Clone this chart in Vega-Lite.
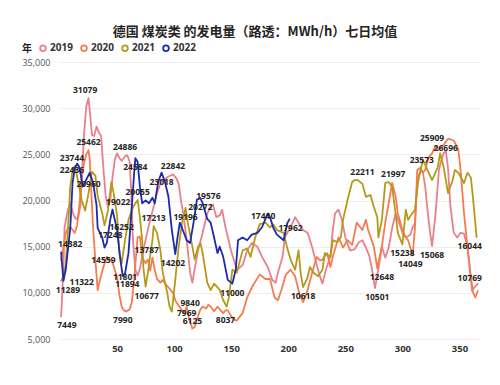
{
  "$schema": "https://vega.github.io/schema/vega-lite/v6.json",
  "width": 420,
  "height": 277,
  "autosize": "none",
  "padding": {"left": 60, "top": 62, "right": 20, "bottom": 46},
  "background": "white",
  "title": {"text": "德国 煤炭类 的发电量（路透：MWh/h）七日均值", "font": "Noto Sans CJK SC", "fontSize": 13, "fontWeight": "bold", "color": "#252423", "anchor": "middle", "dx": -15, "offset": 4},
  "config": {"view": {"stroke": null}},
  "datasets": {
    "lines": [
      {"year":"2019","day":1,"value":7449},{"year":"2019","day":3,"value":12800},{"year":"2019","day":4,"value":17100},{"year":"2019","day":7,"value":19000},{"year":"2019","day":9,"value":19700},{"year":"2019","day":12,"value":18400},{"year":"2019","day":14,"value":18000},{"year":"2019","day":16,"value":18200},{"year":"2019","day":18,"value":19500},{"year":"2019","day":19,"value":22200},{"year":"2019","day":21,"value":27000},{"year":"2019","day":23,"value":30200},{"year":"2019","day":25,"value":31079},{"year":"2019","day":27,"value":28500},{"year":"2019","day":28,"value":27100},{"year":"2019","day":30,"value":27000},{"year":"2019","day":32,"value":28000},{"year":"2019","day":34,"value":27400},{"year":"2019","day":36,"value":27000},{"year":"2019","day":38,"value":23500},{"year":"2019","day":40,"value":20500},{"year":"2019","day":42,"value":19300},{"year":"2019","day":44,"value":20000},{"year":"2019","day":46,"value":22500},{"year":"2019","day":48,"value":24400},{"year":"2019","day":50,"value":25100},{"year":"2019","day":52,"value":24600},{"year":"2019","day":54,"value":24300},{"year":"2019","day":57,"value":24800},{"year":"2019","day":59,"value":24900},{"year":"2019","day":61,"value":24200},{"year":"2019","day":62,"value":22000},{"year":"2019","day":64,"value":15500},{"year":"2019","day":66,"value":12500},{"year":"2019","day":68,"value":11894},{"year":"2019","day":70,"value":12600},{"year":"2019","day":73,"value":14600},{"year":"2019","day":76,"value":16300},{"year":"2019","day":79,"value":17900},{"year":"2019","day":82,"value":19300},{"year":"2019","day":85,"value":20800},{"year":"2019","day":89,"value":22200},{"year":"2019","day":92,"value":22300},{"year":"2019","day":95,"value":22600},{"year":"2019","day":99,"value":22842},{"year":"2019","day":102,"value":22400},{"year":"2019","day":104,"value":21800},{"year":"2019","day":106,"value":20000},{"year":"2019","day":108,"value":18600},{"year":"2019","day":111,"value":15700},{"year":"2019","day":114,"value":12200},{"year":"2019","day":116,"value":11100},{"year":"2019","day":118,"value":12600},{"year":"2019","day":121,"value":14600},{"year":"2019","day":125,"value":16500},{"year":"2019","day":129,"value":18600},{"year":"2019","day":132,"value":19300},{"year":"2019","day":134,"value":19576},{"year":"2019","day":137,"value":18200},{"year":"2019","day":140,"value":18400},{"year":"2019","day":142,"value":19000},{"year":"2019","day":145,"value":17100},{"year":"2019","day":150,"value":14500},{"year":"2019","day":155,"value":12500},{"year":"2019","day":160,"value":13000},{"year":"2019","day":164,"value":14600},{"year":"2019","day":168,"value":15400},{"year":"2019","day":173,"value":15000},{"year":"2019","day":177,"value":13900},{"year":"2019","day":182,"value":12800},{"year":"2019","day":186,"value":11400},{"year":"2019","day":189,"value":11100},{"year":"2019","day":191,"value":12200},{"year":"2019","day":195,"value":13900},{"year":"2019","day":197,"value":16000},{"year":"2019","day":202,"value":17100},{"year":"2019","day":206,"value":18200},{"year":"2019","day":209,"value":17600},{"year":"2019","day":213,"value":16800},{"year":"2019","day":217,"value":16500},{"year":"2019","day":221,"value":14900},{"year":"2019","day":225,"value":13000},{"year":"2019","day":228,"value":11700},{"year":"2019","day":230,"value":11000},{"year":"2019","day":233,"value":12500},{"year":"2019","day":237,"value":14000},{"year":"2019","day":239,"value":16800},{"year":"2019","day":241,"value":18600},{"year":"2019","day":244,"value":19000},{"year":"2019","day":247,"value":17900},{"year":"2019","day":250,"value":16000},{"year":"2019","day":254,"value":14600},{"year":"2019","day":258,"value":14700},{"year":"2019","day":262,"value":15500},{"year":"2019","day":265,"value":15700},{"year":"2019","day":268,"value":14900},{"year":"2019","day":271,"value":14000},{"year":"2019","day":273,"value":12800},{"year":"2019","day":276,"value":10501},{"year":"2019","day":279,"value":12600},{"year":"2019","day":282,"value":15000},{"year":"2019","day":285,"value":13800},{"year":"2019","day":288,"value":14900},{"year":"2019","day":291,"value":17000},{"year":"2019","day":294,"value":18600},{"year":"2019","day":297,"value":17600},{"year":"2019","day":300,"value":16500},{"year":"2019","day":303,"value":16000},{"year":"2019","day":307,"value":16300},{"year":"2019","day":309,"value":17100},{"year":"2019","day":311,"value":17500},{"year":"2019","day":313,"value":22200},{"year":"2019","day":316,"value":23300},{"year":"2019","day":318,"value":23000},{"year":"2019","day":320,"value":21500},{"year":"2019","day":322,"value":19000},{"year":"2019","day":324,"value":16800},{"year":"2019","day":326,"value":15068},{"year":"2019","day":329,"value":18500},{"year":"2019","day":332,"value":23300},{"year":"2019","day":334,"value":24300},{"year":"2019","day":336,"value":25100},{"year":"2019","day":338,"value":25400},{"year":"2019","day":340,"value":23500},{"year":"2019","day":342,"value":19500},{"year":"2019","day":345,"value":16500},{"year":"2019","day":348,"value":16000},{"year":"2019","day":351,"value":16500},{"year":"2019","day":354,"value":16400},{"year":"2019","day":357,"value":15000},{"year":"2019","day":359,"value":12600},{"year":"2019","day":361,"value":10200},{"year":"2019","day":363,"value":10600},{"year":"2019","day":366,"value":11000},

      {"year":"2020","day":1,"value":13500},{"year":"2020","day":3,"value":15000},{"year":"2020","day":5,"value":16500},{"year":"2020","day":7,"value":17000},{"year":"2020","day":9,"value":17100},{"year":"2020","day":11,"value":16800},{"year":"2020","day":13,"value":16500},{"year":"2020","day":15,"value":17300},{"year":"2020","day":17,"value":19500},{"year":"2020","day":19,"value":22500},{"year":"2020","day":21,"value":24000},{"year":"2020","day":23,"value":25000},{"year":"2020","day":25,"value":25462},{"year":"2020","day":26,"value":24500},{"year":"2020","day":27,"value":22000},{"year":"2020","day":28,"value":19500},{"year":"2020","day":29,"value":17000},{"year":"2020","day":31,"value":13500},{"year":"2020","day":33,"value":10300},{"year":"2020","day":35,"value":11400},{"year":"2020","day":38,"value":12800},{"year":"2020","day":41,"value":13900},{"year":"2020","day":44,"value":13600},{"year":"2020","day":46,"value":13300},{"year":"2020","day":48,"value":12500},{"year":"2020","day":50,"value":11700},{"year":"2020","day":52,"value":9800},{"year":"2020","day":54,"value":8500},{"year":"2020","day":56,"value":8100},{"year":"2020","day":58,"value":7990},{"year":"2020","day":61,"value":8200},{"year":"2020","day":63,"value":9000},{"year":"2020","day":65,"value":11500},{"year":"2020","day":67,"value":14500},{"year":"2020","day":68,"value":16000},{"year":"2020","day":70,"value":16100},{"year":"2020","day":72,"value":13800},{"year":"2020","day":75,"value":13200},{"year":"2020","day":77,"value":13600},{"year":"2020","day":79,"value":12400},{"year":"2020","day":81,"value":13800},{"year":"2020","day":83,"value":12500},{"year":"2020","day":85,"value":11500},{"year":"2020","day":88,"value":11100},{"year":"2020","day":90,"value":11400},{"year":"2020","day":92,"value":11000},{"year":"2020","day":95,"value":10600},{"year":"2020","day":99,"value":10000},{"year":"2020","day":101,"value":9200},{"year":"2020","day":104,"value":8600},{"year":"2020","day":107,"value":8100},{"year":"2020","day":109,"value":7800},{"year":"2020","day":111,"value":8500},{"year":"2020","day":113,"value":7200},{"year":"2020","day":116,"value":6125},{"year":"2020","day":118,"value":6300},{"year":"2020","day":121,"value":7500},{"year":"2020","day":123,"value":8200},{"year":"2020","day":125,"value":8500},{"year":"2020","day":128,"value":8300},{"year":"2020","day":130,"value":8700},{"year":"2020","day":132,"value":8500},{"year":"2020","day":135,"value":8000},{"year":"2020","day":138,"value":8500},{"year":"2020","day":140,"value":8200},{"year":"2020","day":143,"value":7800},{"year":"2020","day":145,"value":8100},{"year":"2020","day":147,"value":8100},{"year":"2020","day":150,"value":7500},{"year":"2020","day":152,"value":7100},{"year":"2020","day":155,"value":7000},{"year":"2020","day":158,"value":7500},{"year":"2020","day":160,"value":7800},{"year":"2020","day":164,"value":9500},{"year":"2020","day":169,"value":10800},{"year":"2020","day":175,"value":12000},{"year":"2020","day":180,"value":11500},{"year":"2020","day":184,"value":11500},{"year":"2020","day":188,"value":9500},{"year":"2020","day":191,"value":9200},{"year":"2020","day":194,"value":10300},{"year":"2020","day":198,"value":12000},{"year":"2020","day":202,"value":12500},{"year":"2020","day":206,"value":11800},{"year":"2020","day":210,"value":9800},{"year":"2020","day":213,"value":9000},{"year":"2020","day":217,"value":10300},{"year":"2020","day":221,"value":12200},{"year":"2020","day":225,"value":13900},{"year":"2020","day":228,"value":13500},{"year":"2020","day":230,"value":13600},{"year":"2020","day":234,"value":14300},{"year":"2020","day":237,"value":12800},{"year":"2020","day":239,"value":13900},{"year":"2020","day":244,"value":16000},{"year":"2020","day":248,"value":14900},{"year":"2020","day":252,"value":15700},{"year":"2020","day":256,"value":15200},{"year":"2020","day":260,"value":17600},{"year":"2020","day":265,"value":16800},{"year":"2020","day":268,"value":17900},{"year":"2020","day":270,"value":16800},{"year":"2020","day":275,"value":15000},{"year":"2020","day":278,"value":12648},{"year":"2020","day":282,"value":15000},{"year":"2020","day":285,"value":17600},{"year":"2020","day":288,"value":19700},{"year":"2020","day":291,"value":21900},{"year":"2020","day":294,"value":20500},{"year":"2020","day":296,"value":18600},{"year":"2020","day":300,"value":16800},{"year":"2020","day":303,"value":16000},{"year":"2020","day":305,"value":15700},{"year":"2020","day":309,"value":14049},{"year":"2020","day":311,"value":17000},{"year":"2020","day":313,"value":23300},{"year":"2020","day":316,"value":23573},{"year":"2020","day":318,"value":23000},{"year":"2020","day":320,"value":23300},{"year":"2020","day":323,"value":24700},{"year":"2020","day":326,"value":25100},{"year":"2020","day":329,"value":25909},{"year":"2020","day":332,"value":25500},{"year":"2020","day":336,"value":26000},{"year":"2020","day":340,"value":26696},{"year":"2020","day":345,"value":26500},{"year":"2020","day":349,"value":25500},{"year":"2020","day":351,"value":23300},{"year":"2020","day":354,"value":18600},{"year":"2020","day":357,"value":15000},{"year":"2020","day":360,"value":11700},{"year":"2020","day":362,"value":10000},{"year":"2020","day":364,"value":9500},{"year":"2020","day":366,"value":10200},

      {"year":"2021","day":1,"value":11322},{"year":"2021","day":3,"value":11800},{"year":"2021","day":5,"value":13000},{"year":"2021","day":7,"value":17000},{"year":"2021","day":9,"value":21500},{"year":"2021","day":11,"value":23300},{"year":"2021","day":13,"value":23744},{"year":"2021","day":16,"value":22000},{"year":"2021","day":19,"value":20000},{"year":"2021","day":22,"value":18900},{"year":"2021","day":25,"value":20800},{"year":"2021","day":28,"value":23100},{"year":"2021","day":31,"value":22700},{"year":"2021","day":33,"value":20500},{"year":"2021","day":37,"value":18600},{"year":"2021","day":39,"value":17300},{"year":"2021","day":42,"value":18900},{"year":"2021","day":45,"value":22000},{"year":"2021","day":47,"value":20800},{"year":"2021","day":50,"value":18400},{"year":"2021","day":52,"value":14300},{"year":"2021","day":54,"value":13200},{"year":"2021","day":57,"value":15700},{"year":"2021","day":60,"value":17900},{"year":"2021","day":64,"value":19300},{"year":"2021","day":68,"value":20055},{"year":"2021","day":70,"value":18200},{"year":"2021","day":72,"value":15700},{"year":"2021","day":73,"value":12800},{"year":"2021","day":75,"value":10677},{"year":"2021","day":77,"value":12200},{"year":"2021","day":79,"value":14000},{"year":"2021","day":81,"value":15700},{"year":"2021","day":82,"value":17213},{"year":"2021","day":85,"value":16500},{"year":"2021","day":88,"value":14600},{"year":"2021","day":90,"value":12200},{"year":"2021","day":94,"value":10000},{"year":"2021","day":96,"value":8500},{"year":"2021","day":98,"value":7969},{"year":"2021","day":101,"value":11400},{"year":"2021","day":104,"value":15000},{"year":"2021","day":107,"value":17600},{"year":"2021","day":110,"value":19196},{"year":"2021","day":112,"value":17600},{"year":"2021","day":116,"value":15000},{"year":"2021","day":118,"value":13600},{"year":"2021","day":121,"value":15000},{"year":"2021","day":123,"value":15400},{"year":"2021","day":125,"value":14300},{"year":"2021","day":129,"value":11100},{"year":"2021","day":132,"value":10300},{"year":"2021","day":135,"value":11000},{"year":"2021","day":138,"value":10600},{"year":"2021","day":140,"value":10300},{"year":"2021","day":143,"value":9200},{"year":"2021","day":146,"value":8500},{"year":"2021","day":148,"value":9500},{"year":"2021","day":151,"value":12500},{"year":"2021","day":155,"value":12200},{"year":"2021","day":160,"value":14600},{"year":"2021","day":164,"value":14800},{"year":"2021","day":167,"value":13900},{"year":"2021","day":171,"value":16000},{"year":"2021","day":175,"value":17440},{"year":"2021","day":180,"value":17600},{"year":"2021","day":184,"value":17100},{"year":"2021","day":187,"value":17400},{"year":"2021","day":190,"value":16800},{"year":"2021","day":196,"value":16500},{"year":"2021","day":199,"value":14900},{"year":"2021","day":202,"value":13600},{"year":"2021","day":206,"value":12500},{"year":"2021","day":209,"value":14600},{"year":"2021","day":211,"value":12000},{"year":"2021","day":213,"value":10618},{"year":"2021","day":217,"value":11700},{"year":"2021","day":219,"value":12800},{"year":"2021","day":222,"value":12200},{"year":"2021","day":226,"value":11800},{"year":"2021","day":230,"value":12500},{"year":"2021","day":232,"value":14300},{"year":"2021","day":237,"value":13900},{"year":"2021","day":239,"value":15700},{"year":"2021","day":243,"value":15500},{"year":"2021","day":246,"value":16000},{"year":"2021","day":248,"value":17900},{"year":"2021","day":252,"value":20100},{"year":"2021","day":256,"value":22000},{"year":"2021","day":258,"value":22200},{"year":"2021","day":261,"value":22211},{"year":"2021","day":263,"value":22000},{"year":"2021","day":265,"value":21800},{"year":"2021","day":268,"value":20400},{"year":"2021","day":272,"value":20600},{"year":"2021","day":275,"value":19300},{"year":"2021","day":278,"value":18200},{"year":"2021","day":279,"value":16000},{"year":"2021","day":282,"value":17900},{"year":"2021","day":285,"value":21900},{"year":"2021","day":288,"value":21997},{"year":"2021","day":291,"value":21500},{"year":"2021","day":294,"value":18600},{"year":"2021","day":296,"value":16500},{"year":"2021","day":300,"value":15238},{"year":"2021","day":303,"value":19000},{"year":"2021","day":305,"value":17900},{"year":"2021","day":308,"value":18500},{"year":"2021","day":311,"value":19000},{"year":"2021","day":314,"value":22200},{"year":"2021","day":318,"value":24400},{"year":"2021","day":322,"value":23300},{"year":"2021","day":326,"value":22200},{"year":"2021","day":331,"value":23600},{"year":"2021","day":333,"value":25100},{"year":"2021","day":336,"value":23700},{"year":"2021","day":340,"value":20800},{"year":"2021","day":344,"value":22200},{"year":"2021","day":346,"value":23300},{"year":"2021","day":349,"value":23000},{"year":"2021","day":354,"value":21900},{"year":"2021","day":357,"value":23000},{"year":"2021","day":360,"value":22500},{"year":"2021","day":362,"value":20100},{"year":"2021","day":365,"value":16044},

      {"year":"2022","day":1,"value":14382},{"year":"2022","day":3,"value":11289},{"year":"2022","day":5,"value":12500},{"year":"2022","day":9,"value":17000},{"year":"2022","day":11,"value":21900},{"year":"2022","day":13,"value":23500},{"year":"2022","day":15,"value":24000},{"year":"2022","day":17,"value":23600},{"year":"2022","day":20,"value":21500},{"year":"2022","day":24,"value":22500},{"year":"2022","day":26,"value":23000},{"year":"2022","day":29,"value":21900},{"year":"2022","day":32,"value":19500},{"year":"2022","day":33,"value":17000},{"year":"2022","day":37,"value":16000},{"year":"2022","day":39,"value":14900},{"year":"2022","day":41,"value":15400},{"year":"2022","day":44,"value":17900},{"year":"2022","day":46,"value":19022},{"year":"2022","day":50,"value":16800},{"year":"2022","day":53,"value":13500},{"year":"2022","day":55,"value":11801},{"year":"2022","day":57,"value":12100},{"year":"2022","day":60,"value":14300},{"year":"2022","day":63,"value":19500},{"year":"2022","day":65,"value":23000},{"year":"2022","day":66,"value":24584},{"year":"2022","day":68,"value":24200},{"year":"2022","day":70,"value":21500},{"year":"2022","day":72,"value":19700},{"year":"2022","day":75,"value":20000},{"year":"2022","day":78,"value":19700},{"year":"2022","day":81,"value":20300},{"year":"2022","day":83,"value":19700},{"year":"2022","day":86,"value":22000},{"year":"2022","day":89,"value":23018},{"year":"2022","day":92,"value":22000},{"year":"2022","day":95,"value":20400},{"year":"2022","day":98,"value":16800},{"year":"2022","day":101,"value":14202},{"year":"2022","day":103,"value":16000},{"year":"2022","day":105,"value":17600},{"year":"2022","day":107,"value":17000},{"year":"2022","day":111,"value":15700},{"year":"2022","day":114,"value":15400},{"year":"2022","day":117,"value":17600},{"year":"2022","day":120,"value":20100},{"year":"2022","day":123,"value":20272},{"year":"2022","day":125,"value":19700},{"year":"2022","day":129,"value":18000},{"year":"2022","day":132,"value":17600},{"year":"2022","day":135,"value":16000},{"year":"2022","day":138,"value":14300},{"year":"2022","day":140,"value":15000},{"year":"2022","day":143,"value":13900},{"year":"2022","day":147,"value":11400},{"year":"2022","day":151,"value":11000},{"year":"2022","day":154,"value":12500},{"year":"2022","day":156,"value":15700},{"year":"2022","day":160,"value":16000},{"year":"2022","day":164,"value":15700},{"year":"2022","day":168,"value":16300},{"year":"2022","day":173,"value":16500},{"year":"2022","day":177,"value":17100},{"year":"2022","day":182,"value":18600},{"year":"2022","day":184,"value":18200},{"year":"2022","day":187,"value":17000},{"year":"2022","day":190,"value":16300},{"year":"2022","day":196,"value":15700},{"year":"2022","day":199,"value":17500},{"year":"2022","day":201,"value":17962}
    ],
    "labels": [
      {"day":22,"value":31079,"kind":"high"},{"day":25,"value":25462,"kind":"high"},{"day":10.5,"value":23744,"kind":"high"},{"day":10.5,"value":22436,"kind":"high"},{"day":25,"value":20960,"kind":"high"},{"day":57,"value":24886,"kind":"high"},{"day":66,"value":24584,"kind":"low"},{"day":99,"value":22842,"kind":"high"},{"day":89,"value":23018,"kind":"low"},{"day":68,"value":20055,"kind":"high"},{"day":51,"value":19022,"kind":"high"},{"day":44,"value":17248,"kind":"low"},{"day":54,"value":16252,"kind":"high"},{"day":9,"value":14382,"kind":"high"},{"day":19,"value":11322,"kind":"mid"},{"day":7,"value":11289,"kind":"low"},{"day":6,"value":7449,"kind":"low"},{"day":38,"value":14559,"kind":"low"},{"day":57,"value":11801,"kind":"mid"},{"day":59,"value":11894,"kind":"low"},{"day":55,"value":7990,"kind":"low"},{"day":82,"value":17213,"kind":"high"},{"day":76,"value":13787,"kind":"high"},{"day":76,"value":10677,"kind":"low"},{"day":99,"value":14202,"kind":"low"},{"day":110,"value":19196,"kind":"low"},{"day":130,"value":19576,"kind":"high"},{"day":123,"value":20272,"kind":"low"},{"day":114,"value":9840,"kind":"low"},{"day":111,"value":7969,"kind":"mid"},{"day":116,"value":6125,"kind":"high"},{"day":145,"value":8037,"kind":"low"},{"day":151,"value":11000,"kind":"low"},{"day":178,"value":17440,"kind":"high"},{"day":202,"value":17962,"kind":"low"},{"day":213,"value":10618,"kind":"low"},{"day":265,"value":22211,"kind":"high"},{"day":292,"value":21997,"kind":"high"},{"day":282,"value":12648,"kind":"low"},{"day":278,"value":10501,"kind":"low"},{"day":300,"value":15238,"kind":"low"},{"day":307,"value":14049,"kind":"low"},{"day":326,"value":15068,"kind":"low"},{"day":317,"value":23573,"kind":"high"},{"day":326,"value":25909,"kind":"high"},{"day":338,"value":26696,"kind":"low"},{"day":359,"value":16044,"kind":"low"},{"day":359,"value":10769,"kind":"high"}
    ]
  },
  "encoding": {
    "x": {"field": "day", "type": "quantitative", "scale": {"domain": [0, 368], "nice": false, "zero": false},
      "axis": {"title": null, "values": [50,100,150,200,250,300,350], "grid": false, "domain": false, "ticks": false, "labelFont": "Open Sans", "labelFontSize": 9.5, "labelFontWeight": "bold", "labelColor": "#333333", "labelPadding": 4}},
    "y": {"field": "value", "type": "quantitative", "scale": {"domain": [5000, 35000], "nice": false, "zero": false},
      "axis": {"title": null, "values": [5000,10000,15000,20000,25000,30000,35000], "format": ",.0f", "grid": true, "gridColor": "#eeeeee", "gridWidth": 1, "domain": false, "ticks": false, "labelFont": "Open Sans", "labelFontSize": 9, "labelColor": "#555555", "labelPadding": 10}}
  },
  "layer": [
    {
      "data": {"name": "lines"},
      "mark": {"type": "line", "interpolate": "linear", "strokeJoin": "round", "strokeCap": "round"},
      "encoding": {
        "color": {"field": "year", "type": "nominal",
          "scale": {"domain": ["2019","2020","2021","2022"], "range": ["#E9808D","#F47C4F","#B39B17","#1C2BAB"]},
          "legend": {"title": "年", "orient": "none", "legendX": -38, "legendY": -19, "direction": "horizontal", "titleOrient": "left", "titleFont": "Noto Sans CJK SC", "titleFontSize": 10, "titleFontWeight": "bold", "titleColor": "#252423", "titlePadding": 6, "labelFont": "Open Sans", "labelFontSize": 10, "labelFontWeight": "bold", "labelColor": "#333333", "labelOffset": 2, "columnPadding": 4, "symbolType": "circle", "symbolSize": 32, "symbolStrokeWidth": 0}},
        "strokeWidth": {"field": "year", "type": "nominal", "scale": {"domain": ["2019","2020","2021","2022"], "range": [1.8,1.8,1.8,4]}, "legend": null},
        "order": {"field": "day", "type": "quantitative"}
      }
    },
    {
      "data": {"name": "labels"},
      "transform": [{"filter": "datum.kind === 'high'"}],
      "mark": {"type": "text", "dy": -8, "font": "Open Sans", "fontSize": 8.5, "fontWeight": "bold", "color": "#252423", "align": "center", "baseline": "middle"},
      "encoding": {"text": {"field": "value", "type": "quantitative", "format": "d"}}
    },
    {
      "data": {"name": "labels"},
      "transform": [{"filter": "datum.kind === 'low'"}],
      "mark": {"type": "text", "dy": 9, "font": "Open Sans", "fontSize": 8.5, "fontWeight": "bold", "color": "#252423", "align": "center", "baseline": "middle"},
      "encoding": {"text": {"field": "value", "type": "quantitative", "format": "d"}}
    },
    {
      "data": {"name": "labels"},
      "transform": [{"filter": "datum.kind === 'mid'"}],
      "mark": {"type": "text", "dy": 1, "font": "Open Sans", "fontSize": 8.5, "fontWeight": "bold", "color": "#252423", "align": "center", "baseline": "middle"},
      "encoding": {"text": {"field": "value", "type": "quantitative", "format": "d"}}
    }
  ]
}
